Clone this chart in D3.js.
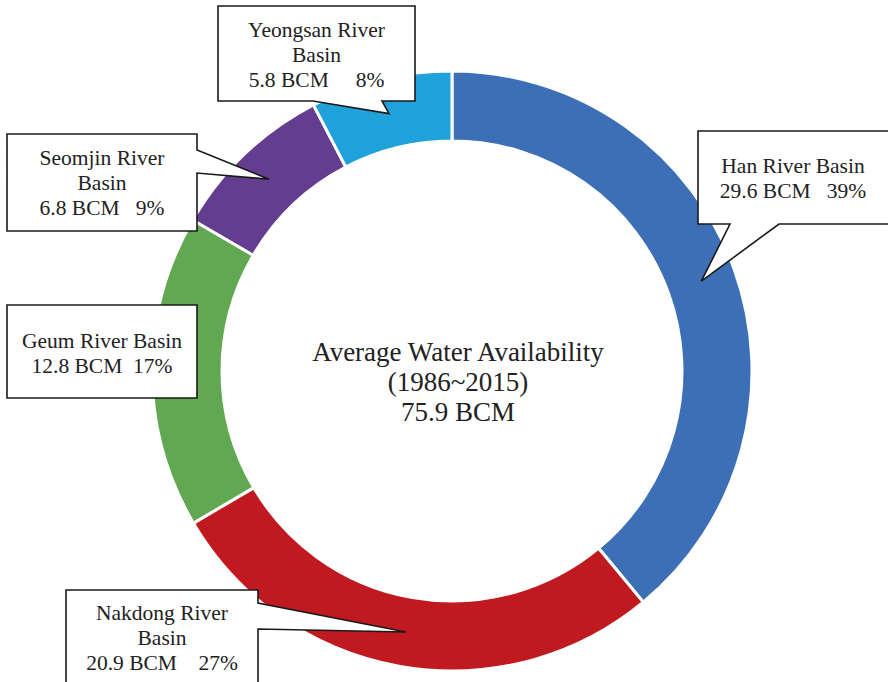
<!DOCTYPE html>
<html>
<head>
<meta charset="utf-8">
<script src="https://cdn.jsdelivr.net/npm/d3@7"></script>
<style>
  body { margin: 0; background: #fff; }
  svg { display: block; }
  text { fill: #222; white-space: pre; }
</style>
</head>
<body>
<svg></svg>
<script>
// water availability by river basin (BCM), clockwise from 12 o'clock
var basins = ["Han River Basin", "Nakdong River Basin", "Geum River Basin", "Seomjin River Basin", "Yeongsan River Basin"];
var values = [29.6, 20.9, 12.8, 6.8, 5.8];
var percents = ["39%", "27%", "17%", "9%", "8%"];
var colors = ["#3c6fb6", "#c0191f", "#62a852", "#643d91", "#1fa1d9"];
var centerLines = ["Average Water Availability", "(1986~2015)", "75.9 BCM"];

// label text lines for each callout
var labelLines = [
  ["Han River Basin", "29.6 BCM   39%"],
  ["Nakdong River", "Basin", "20.9 BCM    27%"],
  ["Geum River Basin", "12.8 BCM  17%"],
  ["Seomjin River", "Basin", "6.8 BCM   9%"],
  ["Yeongsan River", "Basin", "5.8 BCM     8%"]
];

const width = 888, height = 682;
const cx = 452, cy = 371;
const outerR = 300, innerR = 230;

// callout boxes: rect + which side the pointer leaves from and its base
var callouts = [
  {x0: 698, y0: 131, x1: 892, y1: 224, side: "bottom", b0: 730, b1: 779, top: 173},
  {x0: 66, y0: 590, x1: 258, y1: 690, side: "right", b0: 603, b1: 629, top: 620},
  {x0: 7, y0: 305, x1: 197, y1: 398, side: null, top: 348},
  {x0: 7, y0: 134, x1: 197, y1: 231, side: "right", b0: 150, b1: 173, top: 165},
  {x0: 218, y0: 6, x1: 415, y1: 101, side: "bottom", b0: 313, b1: 382, top: 37}
];

var svg = d3.select("svg")
    .attr("width", width)
    .attr("height", height)
    .attr("font-family", "'Liberation Serif', 'Times New Roman', Times, serif");

var pie = d3.pie().sort(null).value(d => d);
var arc = d3.arc().innerRadius(innerR).outerRadius(outerR);
var arcs = pie(values);

var g = svg.append("g")
    .attr("transform", "translate(" + cx + "," + cy + ")");

g.selectAll("path.slice")
  .data(arcs)
  .enter().append("path")
    .attr("class", "slice")
    .attr("d", arc)
    .attr("fill", (d, i) => colors[i])
    .attr("stroke", "#fff")
    .attr("stroke-width", 3)
    .attr("stroke-linejoin", "miter");

// center title
g.selectAll("text.center")
  .data(centerLines)
  .enter().append("text")
    .attr("class", "center")
    .attr("text-anchor", "middle")
    .attr("x", 6)
    .attr("y", (d, i) => -10 + i * 30)
    .attr("font-size", 27)
    .text(d => d);

function calloutPath(c, tip) {
  var p = [];
  if (c.side === "bottom") {
    p = [[c.x0, c.y0], [c.x1, c.y0], [c.x1, c.y1], [c.b1, c.y1], tip, [c.b0, c.y1], [c.x0, c.y1]];
  } else if (c.side === "right") {
    p = [[c.x0, c.y0], [c.x1, c.y0], [c.x1, c.b0], tip, [c.x1, c.b1], [c.x1, c.y1], [c.x0, c.y1]];
  } else {
    p = [[c.x0, c.y0], [c.x1, c.y0], [c.x1, c.y1], [c.x0, c.y1]];
  }
  return "M" + p.map(q => q[0] + "," + q[1]).join("L") + "Z";
}

var labels = svg.selectAll("g.callout")
  .data(arcs)
  .enter().append("g")
    .attr("class", "callout");

// pointer tip sits on the slice centroid
labels.append("path")
    .attr("d", (d, i) => {
      var c = arc.centroid(d);
      return calloutPath(callouts[i], [cx + c[0], cy + c[1]]);
    })
    .attr("fill", "#fff")
    .attr("stroke", "#1a1a1a")
    .attr("stroke-width", 1.6)
    .attr("stroke-linejoin", "miter");

labels.each(function(d, i) {
  var c = callouts[i];
  var midX = (c.x0 + Math.min(c.x1, width)) / 2;
  d3.select(this).selectAll("text")
    .data(labelLines[i])
    .enter().append("text")
      .attr("text-anchor", "middle")
      .attr("x", midX)
      .attr("y", (t, j) => c.top + j * 25)
      .attr("font-size", 21.5)
      .text(t => t);
});
</script>
</body>
</html>
